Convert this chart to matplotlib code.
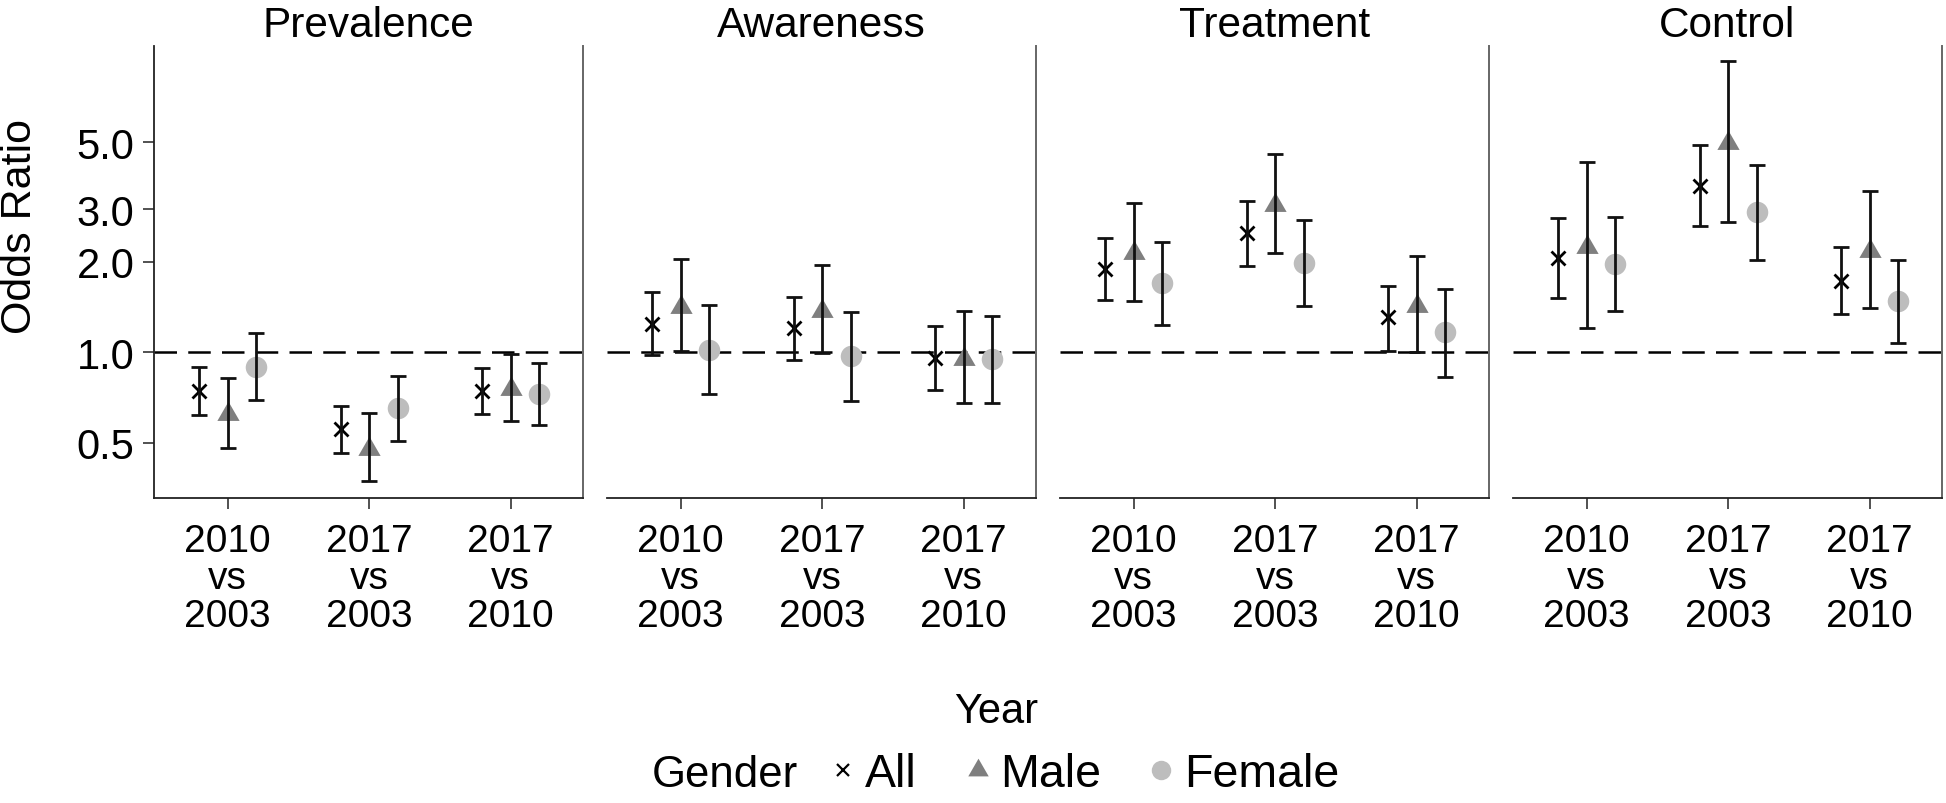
import matplotlib
matplotlib.use("Agg")
import matplotlib.pyplot as plt
from matplotlib.lines import Line2D

plt.rcParams['font.family'] = ['Liberation Sans', 'DejaVu Sans']

panels = ['Prevalence', 'Awareness', 'Treatment', 'Control']
comparisons = ['2010\nvs\n2003', '2017\nvs\n2003', '2017\nvs\n2010']
genders = ['All', 'Male', 'Female']

# odds ratios, one row per panel, one column per comparison
all_or = [[0.741, 0.555, 0.741], [1.24, 1.20, 0.955], [1.90, 2.49, 1.31], [2.06, 3.59, 1.73]]
all_lo = [[0.618, 0.463, 0.621], [0.980, 0.943, 0.749], [1.494, 1.945, 1.013], [1.514, 2.644, 1.342]]
all_hi = [[0.896, 0.664, 0.889], [1.593, 1.525, 1.227], [2.411, 3.186, 1.668], [2.804, 4.886, 2.239]]

male_or = [[0.623, 0.475, 0.755], [1.42, 1.374, 0.948], [2.14, 3.10, 1.43], [2.25, 4.98, 2.18]]
male_lo = [[0.480, 0.372, 0.588], [1.013, 0.992, 0.676], [1.479, 2.143, 1.005], [1.202, 2.712, 1.402]]
male_hi = [[0.823, 0.626, 0.987], [2.047, 1.954, 1.377], [3.139, 4.58, 2.089], [4.30, 9.33, 3.44]]

female_or = [[0.896, 0.654, 0.726], [1.021, 0.975, 0.950], [1.698, 1.986, 1.166], [1.969, 2.93, 1.479]]
female_lo = [[0.692, 0.506, 0.571], [0.726, 0.690, 0.678], [1.233, 1.423, 0.830], [1.370, 2.03, 1.074]]
female_hi = [[1.157, 0.836, 0.919], [1.438, 1.366, 1.318], [2.326, 2.748, 1.626], [2.818, 4.19, 2.03]]

yticks = [0.5, 1.0, 2.0, 3.0, 5.0]

W, H = 1946, 804
fig = plt.figure(figsize=(W / 100, H / 100), dpi=100)

styles = {
    'All': dict(marker='x', color='black', ms=10, mew=2.0),
    'Male': dict(marker=(3, 0, 0), color='#7f7f7f', ms=18.5, mew=0),
    'Female': dict(marker='o', color='#bdbdbd', ms=15.5, mew=0),
}
series = {
    'All': (all_or, all_lo, all_hi),
    'Male': (male_or, male_lo, male_hi),
    'Female': (female_or, female_lo, female_hi),
}
offsets = {'All': -0.2, 'Male': 0.0, 'Female': 0.2}

lefts = [154, 607, 1060, 1513]
pw, top, bottom = 429, 46.7, 499

for p, name in enumerate(panels):
    ax = fig.add_axes([lefts[p] / W, 1 - bottom / H, pw / W, (bottom - top) / H])
    ax.set_yscale('log')
    ax.axhline(1.0, color='black', lw=1.8, ls=(0, (9, 4.5)), zorder=1)

    for g in genders:
        est, lo, hi = series[g]
        xs = [i + 1 + offsets[g] for i in range(3)]
        ax.plot(xs, est[p], ls='none', zorder=2, **styles[g])
        yerr = [[e - l for e, l in zip(est[p], lo[p])], [h - e for e, h in zip(est[p], hi[p])]]
        ax.errorbar(xs, est[p], yerr=yerr, fmt='none', ecolor='#111111',
                    elinewidth=2.0, capsize=5.5, capthick=2.0, zorder=3)

    ax.set_xlim(0.48, 3.51)
    ax.set_ylim(0.327, 10.5)
    ax.set_xticks([1, 2, 3])
    ax.set_xticklabels(comparisons, fontsize=28, linespacing=1.05)
    ax.minorticks_off()
    ax.set_yticks(yticks)
    ax.tick_params(axis='both', length=8, width=1.2, color='#333333', pad=6)
    ax.tick_params(axis='x', pad=10)

    ax.spines['top'].set_visible(False)
    ax.spines['bottom'].set_color('#222222')
    ax.spines['bottom'].set_linewidth(1.3)
    ax.spines['right'].set_color('#666666')
    ax.spines['right'].set_linewidth(1.4)
    if p == 0:
        ax.set_yticklabels([f'{v:.1f}' for v in yticks], fontsize=30)
        ax.spines['left'].set_color('#222222')
        ax.spines['left'].set_linewidth(1.3)
    else:
        ax.spines['left'].set_visible(False)
        ax.tick_params(axis='y', left=False, labelleft=False)

    ax.set_title(name, fontsize=30.5, pad=7)

fig.text(20 / W, 1 - 226 / H, 'Odds Ratio', rotation=90, ha='center', va='center', fontsize=31)
fig.text(996 / W, 1 - 723 / H, 'Year', ha='center', va='baseline', fontsize=30)
fig.text(798 / W, 1 - 787 / H, 'Gender', ha='right', va='baseline', fontsize=31.5)

handles = [Line2D([], [], ls='none', **dict(styles['All'], ms=8.5, mew=1.6)),
           Line2D([], [], ls='none', **dict(styles['Male'], ms=17)),
           Line2D([], [], ls='none', **dict(styles['Female'], ms=14))]
fig.legend(handles, genders, loc='center', bbox_to_anchor=(1084 / W, 1 - 775 / H),
           ncol=3, frameon=False, fontsize=33.5, handlelength=0.6, handletextpad=0.18,
           columnspacing=1.0, borderpad=0)

fig.savefig('out.png', dpi=100, facecolor='white')
